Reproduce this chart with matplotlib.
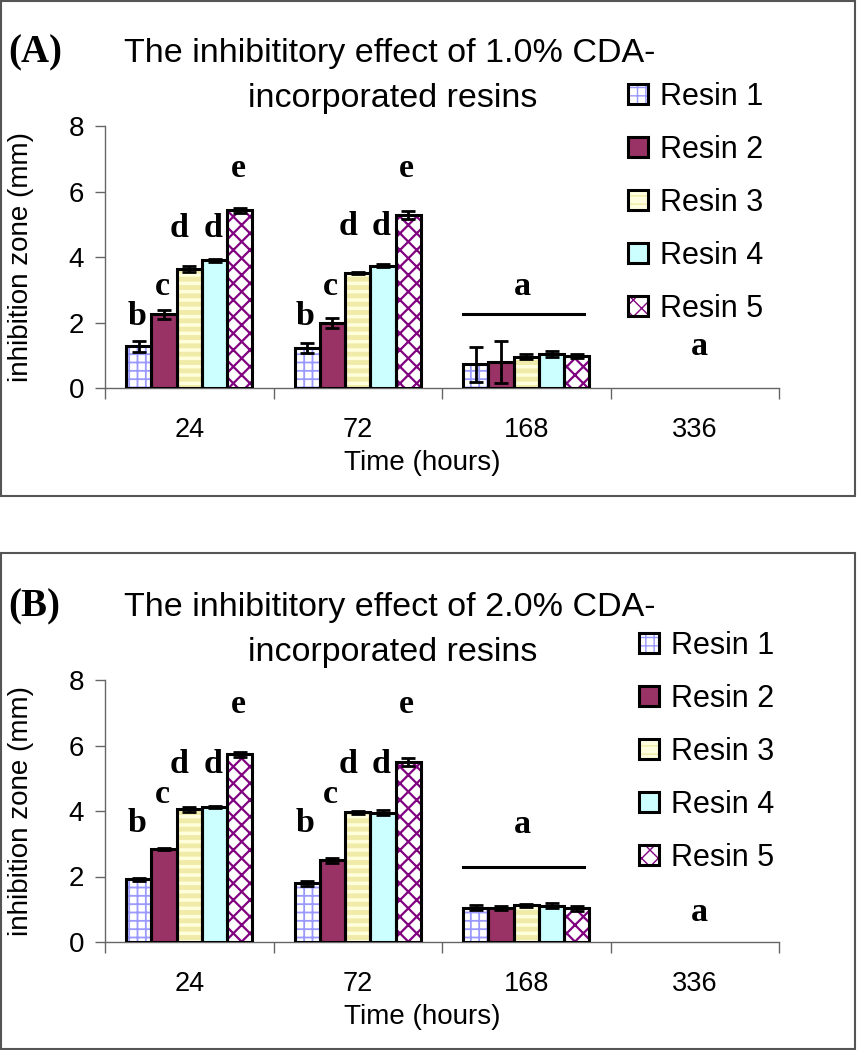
import matplotlib
matplotlib.use('Agg')
import matplotlib.pyplot as plt
from matplotlib.patches import Rectangle
import numpy as np

times = ['24', '72', '168', '336']
resins = ['Resin 1', 'Resin 2', 'Resin 3', 'Resin 4', 'Resin 5']

# panel A: 1.0% CDA, one row per time point, one column per resin (nan = no bar)
mean_a = [[1.27, 2.25, 3.63, 3.90, 5.42],
          [1.21, 1.99, 3.52, 3.74, 5.28],
          [0.72, 0.80, 0.96, 1.03, 0.98],
          [np.nan] * 5]
err_a = [[0.16, 0.13, 0.09, 0.04, 0.07],
         [0.15, 0.16, 0.03, 0.05, 0.13],
         [0.54, 0.64, 0.07, 0.09, 0.05],
         [np.nan] * 5]

# panel B: 2.0% CDA
mean_b = [[1.91, 2.83, 4.05, 4.12, 5.73],
          [1.79, 2.50, 3.96, 3.95, 5.49],
          [1.05, 1.05, 1.12, 1.11, 1.03],
          [np.nan] * 5]
err_b = [[0.05, 0.03, 0.08, 0.04, 0.08],
         [0.08, 0.08, 0.04, 0.07, 0.12],
         [0.07, 0.06, 0.04, 0.08, 0.08],
         [np.nan] * 5]

# significance letters above bars (24 h and 72 h groups), and the shared 'a'
letters = ['b', 'c', 'd', 'd', 'e']
letter_y_a = [[1.92, 2.84, 4.61, 4.61, 6.45],
              [1.92, 2.84, 4.67, 4.67, 6.45]]
letter_y_b = [[3.35, 4.23, 5.15, 5.15, 6.98],
              [3.35, 4.23, 5.15, 5.15, 6.98]]
a_line_y = {'A': 2.26, 'B': 2.29}
a_168_y = {'A': 2.84, 'B': 3.33}
a_336_y = {'A': 1.0, 'B': 0.64}

# bar styles
face = ['white', '#993366', '#FFFFDD', '#CCFFFF', 'white']
hatch = ['++', None, '--', None, 'xx']
hatch_col = ['#9999FF', '#993366', '#F0EBA8', '#CCFFFF', '#800080']
hatch_lw = [1.3, 1.0, 3.5, 1.0, 1.6]

W, H = 857, 1050
fig = plt.figure(figsize=(W / 100, H / 100), dpi=100)

sans = 'Liberation Sans'
serif = 'Liberation Serif'
bw = 0.15


def panel(ax, means, errs, let_y, key, tag, pct, top_px, legend_xy):
    means = np.array(means, dtype=float)
    errs = np.array(errs, dtype=float)
    x = np.arange(len(times))
    handles = []
    for j in range(len(resins)):
        xs = x + (j - 2) * bw
        with plt.rc_context({'hatch.linewidth': hatch_lw[j]}):
            under = ax.bar(xs, means[:, j], bw, color=face[j], edgecolor=hatch_col[j],
                           linewidth=0, hatch=hatch[j], zorder=2)
        for p in under:
            if hasattr(p, 'set_hatch_linewidth'):
                p.set_hatch_linewidth(hatch_lw[j])
        over = ax.bar(xs, means[:, j], bw, facecolor='none', edgecolor='black',
                      linewidth=2.2, zorder=3)
        ax.errorbar(xs, means[:, j], yerr=errs[:, j], fmt='none', ecolor='black',
                    elinewidth=2, capsize=4.7, capthick=2, zorder=4)
        handles.append((under[0], over[0]))
        # letters for 24 h and 72 h
        for g in range(2):
            dx = -0.06 if j == 2 else -0.01
            ax.text(xs[g] + dx, let_y[g][j], letters[j], ha='center', va='baseline',
                    family=serif, weight='bold', fontsize=24.5, zorder=5)

    ax.plot([-0.375, 0.345] + x[2], [a_line_y[key]] * 2, color='black', lw=2.2,
            zorder=5, clip_on=False)
    ax.text(x[2] - 0.02, a_168_y[key], 'a', ha='center', va='baseline', family=serif,
            weight='bold', fontsize=24.5)
    ax.text(x[3] + 0.03, a_336_y[key], 'a', ha='center', va='baseline', family=serif,
            weight='bold', fontsize=24.5)

    ax.set_xlim(-0.5, len(times) - 0.5)
    ax.set_ylim(0, 8)
    ax.set_yticks([0, 2, 4, 6, 8])
    ax.set_xticks(x)
    ax.set_xticklabels(times)
    ax.set_xticks(np.arange(len(times) + 1) - 0.5, minor=True)
    ax.tick_params(axis='x', which='major', length=0, pad=21, labelsize=19.5)
    ax.tick_params(axis='x', which='minor', length=8, width=1, color='#666666')
    ax.tick_params(axis='y', length=7, width=1, color='#666666', pad=8, labelsize=20)
    for lab in ax.get_xticklabels() + ax.get_yticklabels():
        lab.set_family(sans)
    for s in ['top', 'right']:
        ax.spines[s].set_visible(False)
    for s in ['left', 'bottom']:
        ax.spines[s].set_color('#666666')
        ax.spines[s].set_linewidth(1)

    ax.set_ylabel('inhibition zone (mm)', family=sans, fontsize=20)
    ax.yaxis.set_label_coords(-0.105, 0.5)
    ax.set_xlabel('Time (hours)', family=sans, fontsize=20)
    ax.xaxis.label.set_va('center')
    ax.xaxis.set_label_coords(0.47, -0.285)

    # title and panel tag
    fig.text(0.455, 1 - (top_px - 64) / H, 'The inhibititory effect of %s CDA-' % pct,
             ha='center', va='baseline', family=sans, fontsize=24.5)
    fig.text(0.458, 1 - (top_px - 19) / H, 'incorporated resins',
             ha='center', va='baseline', family=sans, fontsize=24.5)
    fig.text(8 / W, 1 - (top_px - 64) / H, tag, ha='left', va='baseline',
             family=serif, weight='bold', fontsize=28)

    ax.legend(handles, resins, loc='upper left', bbox_to_anchor=legend_xy,
              bbox_transform=fig.transFigure, frameon=False, prop={'family': sans, 'size': 22},
              handlelength=0.65, handleheight=0.65, handletextpad=0.4,
              labelspacing=0.75, borderpad=0, borderaxespad=0)


ax_a = fig.add_axes([105 / W, 1 - 388 / H, 674 / W, 262 / H])
ax_b = fig.add_axes([105 / W, 1 - 942 / H, 674 / W, 262 / H])

panel(ax_a, mean_a, err_a, letter_y_a, 'A', '(A)', '1.0%', 126, (628 / W, 1 - 82 / H))
panel(ax_b, mean_b, err_b, letter_y_b, 'B', '(B)', '2.0%', 680, (639 / W, 1 - 631 / H))

# panel frames
fig.add_artist(Rectangle((1 / W, 1 - 496 / H), 854 / W, 495 / H, transform=fig.transFigure,
                         fill=False, edgecolor='#555555', linewidth=1.5))
fig.add_artist(Rectangle((1 / W, 1 / H), 854 / W, 496 / H, transform=fig.transFigure,
                         fill=False, edgecolor='#555555', linewidth=1.5))

fig.savefig('out.png', dpi=100)
